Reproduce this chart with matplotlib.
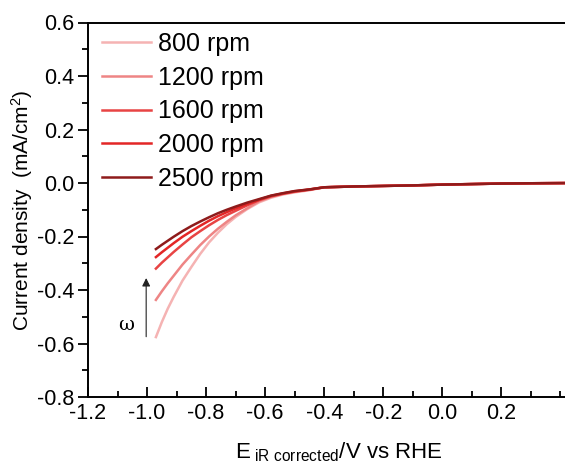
import matplotlib
matplotlib.use('Agg')
import matplotlib.pyplot as plt
from matplotlib.ticker import MultipleLocator

plt.rcParams['font.family'] = ['Liberation Sans', 'DejaVu Sans']
plt.rcParams['mathtext.fontset'] = 'custom'
plt.rcParams['mathtext.rm'] = 'Liberation Sans'
plt.rcParams['mathtext.it'] = 'Liberation Sans'

# Potential (V vs RHE) shared by all LSV sweeps
potential = [-0.97, -0.95, -0.93, -0.91, -0.88, -0.85, -0.82, -0.79, -0.76, -0.73,
             -0.70, -0.66, -0.62, -0.58, -0.54, -0.50, -0.45, -0.40, -0.30, -0.20,
             -0.10, 0.00, 0.10, 0.20, 0.30, 0.45]

tail = [-0.016, -0.013, -0.011, -0.009, -0.006, -0.004, -0.002, -0.001, 0.000]

j_800 = [-0.576, -0.520, -0.470, -0.426, -0.365, -0.314, -0.265, -0.222, -0.186, -0.154,
         -0.127, -0.097, -0.072, -0.055, -0.043, -0.035, -0.027] + tail
j_1200 = [-0.437, -0.405, -0.375, -0.347, -0.305, -0.268, -0.232, -0.200, -0.171, -0.145,
          -0.121, -0.094, -0.068, -0.052, -0.041, -0.033, -0.025] + tail
j_1600 = [-0.320, -0.298, -0.278, -0.258, -0.230, -0.203, -0.180, -0.158, -0.138, -0.120,
          -0.104, -0.083, -0.064, -0.050, -0.040, -0.032, -0.025] + tail
j_2000 = [-0.277, -0.259, -0.242, -0.225, -0.201, -0.180, -0.160, -0.141, -0.124, -0.109,
          -0.095, -0.078, -0.062, -0.048, -0.039, -0.031, -0.024] + tail
j_2500 = [-0.247, -0.231, -0.216, -0.201, -0.180, -0.161, -0.144, -0.128, -0.113, -0.100,
          -0.088, -0.073, -0.060, -0.047, -0.038, -0.030, -0.024] + tail

labels = ['800 rpm', '1200 rpm', '1600 rpm', '2000 rpm', '2500 rpm']
currents = [j_800, j_1200, j_1600, j_2000, j_2500]
COLORS = ['#f5b3b3', '#ee8585', '#e84444', '#e32626', '#8e1b1b']

xticks = [-1.2, -1.0, -0.8, -0.6, -0.4, -0.2, 0.0, 0.2]
yticks = [-0.8, -0.6, -0.4, -0.2, 0.0, 0.2, 0.4, 0.6]

fig = plt.figure(figsize=(5.65, 4.67), dpi=100)
ax = fig.add_axes([88 / 565, 70 / 467, 502 / 565, 374.5 / 467])

for j, lab, c in zip(currents, labels, COLORS):
    ax.plot(potential, j, color=c, linewidth=1.8, label=lab)

ax.set_xlim(-1.2, 0.5)
ax.set_ylim(-0.8, 0.6)
ax.set_xticks(xticks)
ax.set_xticklabels([f'{t:.1f}' for t in xticks])
ax.set_yticks(yticks)
ax.set_yticklabels([f'{t:.1f}' for t in yticks])
ax.xaxis.set_minor_locator(MultipleLocator(0.1))
ax.yaxis.set_minor_locator(MultipleLocator(0.1))

ax.tick_params(axis='x', which='major', direction='in', length=7, width=1.3, labelsize=15.5, pad=4)
ax.tick_params(axis='x', which='minor', direction='in', length=4, width=1.3)
ax.tick_params(axis='y', which='major', direction='out', length=7, width=1.3, labelsize=15.5, pad=3)
ax.tick_params(axis='y', which='minor', direction='out', length=4, width=1.3)
ax.spines['right'].set_visible(False)
for s in ('left', 'bottom', 'top'):
    ax.spines[s].set_linewidth(1.4)

ax.set_xlabel(r'E$_{\ \mathrm{iR\ corrected}}$/V vs RHE', fontsize=16, labelpad=12)
ax.set_ylabel(r'Current density  (mA/cm$^2$)', fontsize=15, labelpad=1)

# rotation-rate arrow
ax.annotate('', xy=(-1.003, -0.345), xytext=(-1.003, -0.585),
            arrowprops=dict(arrowstyle='-|>', color='#222222', lw=0.8,
                            mutation_scale=12))
ax.text(-1.07, -0.53, 'ω', fontsize=14, family='DejaVu Serif', ha='center', va='center')

ax.legend(loc='upper left', bbox_to_anchor=(0.028, 0.975), frameon=False, fontsize=18,
          handlelength=1.95, handletextpad=0.28, labelspacing=0.39,
          borderaxespad=0.0, borderpad=0.0)

fig.savefig('out.png', dpi=100)
